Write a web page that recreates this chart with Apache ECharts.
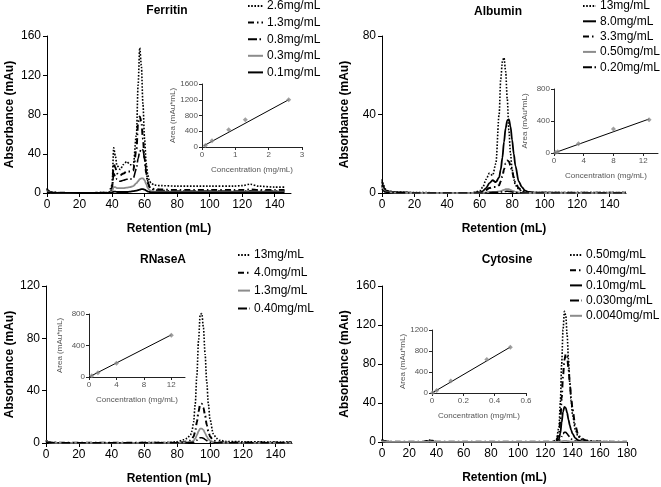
<!DOCTYPE html>
<html><head><meta charset="utf-8">
<script src="https://cdn.jsdelivr.net/npm/echarts@6/dist/echarts.min.js"></script>
<style>html,body{margin:0;padding:0;background:#fff}#c{width:661px;height:487px}</style>
</head><body><div id="c"></div>
<script>
// ---------- Ferritin ----------
var ferX = [0,1,2,4,8,20,38,40,41,42,43,45,47,49,51,53,55,56,57,58,59,60,61,62,63,64,66,70,80,100,115,120,125,130,140,146];
var fer26 = [5,2,1,0.5,0.3,0,0.5,8,46,38,28,24,29,32,29,28,60,110,148,130,90,55,30,18,12,10,8,7.5,7,7,7,7.5,9,7,6,6];
var fer13 = [4,2,1,0.5,0.2,0,0.3,5,30,26,20,18,20,22,22,23,45,72,78,73,55,35,20,10,6,5,4,3.5,3,3,3,3,3.5,3,3,3];
var fer08 = [3,1.5,0.8,0.4,0.2,0,0.2,3,20,17,14,12,13,14,14,15,25,35,42,45,44,35,22,12,6,4,3,2.5,2,2,2,2,2.2,2,2,2];
var fer03 = [2,1,0.5,0.3,0.1,0,0.2,1.5,6,6,5,5,5,5.5,6,7,10,12,14,15,15,13,9,5,3,2,1.5,1.5,1.5,1.5,1.5,1.5,1.5,1.5,1.5,1.5];
var fer01 = [1,0.5,0.3,0.2,0.1,0,0,0.3,1.5,1.5,1,1,1,1,1.5,2,2.5,3,3.5,4,4,3.5,2.5,1.5,1,0.6,0.5,0.5,0.5,0.5,0.5,0.5,0.5,0.5,0.5,0.5];
var ferConc = [0.1,0.3,0.8,1.3,2.6];
var ferArea = [40,160,440,690,1200];
var ferFitX = [0.05,2.6];
var ferFitY = [30,1200];
// ---------- Albumin ----------
var albX = [0,1,2,4,8,20,55,60,62,64,66,68,70,72,73,74,75,76,77,78,79,80,81,82,84,86,88,90,95,110,130,150];
var alb13 = [7,4,2,1,0.5,0.2,0,1,3,7,10,9,15,40,58,67,69,62,48,32,20,12,7,4,2,1,0.5,0.3,0.2,0.2,0.2,0.2];
var alb80 = [6,3,1.5,0.8,0.4,0.1,0,0.3,1,2.5,5,6.5,5.5,8,12,18,26,33,37,37.5,34,27,20,14,6,3,1.2,0.5,0.2,0.1,0,0];
var alb33 = [4,2,1,0.5,0.2,0,0,0.2,0.5,1.5,2.5,3,3,4,6,8.5,12,15,16.5,16,14,11,8,5.5,2.5,1.2,0.5,0.2,0.1,0.1,0.1,0.1];
var alb05 = [3,1.5,0.8,0.4,0.2,0,0,0,0.1,0.3,0.5,0.6,0.6,0.8,1,1.3,1.6,1.9,2,1.9,1.6,1.2,0.9,0.6,0.3,0.1,0,0,0,0,0,0];
var alb02 = [2,1,0.5,0.3,0.1,0,0,0,0,0.1,0.2,0.3,0.3,0.4,0.5,0.6,0.7,0.8,0.9,0.8,0.7,0.5,0.4,0.3,0.1,0,0,0,0,0,0,0];
var albConc = [0.2,0.5,3.3,8.0,12.8];
var albArea = [5,15,115,300,415];
var albFitX = [0,12.8];
var albFitY = [0,425];
// ---------- RNaseA ----------
var rnaX = [0,1,2,4,10,40,75,80,84,86,88,89,90,91,92,93,94,95,96,97,98,99,100,102,104,106,110,120,135,150];
var rna13 = [2,1,0.5,0.3,0.2,0.2,0.3,1,2.5,3.5,6,9,16,30,52,78,98,99,88,68,47,30,18,7,3.5,2,1.2,1,0.8,0.8];
var rna40 = [2,1,0.5,0.3,0.2,0.2,0.2,0.3,0.8,1.2,2,3,5,9,16,24,29.5,30,27,21,14,9,5,2,1,0.6,0.4,0.3,0.3,0.3];
var rna13b = [1.5,0.8,0.4,0.2,0.1,0.1,0.1,0.2,0.4,0.5,0.7,1,1.8,3.3,6,9,11,11,10,7.5,5,3,1.8,0.7,0.3,0.2,0.1,0.1,0.1,0.1];
var rna04 = [1,0.5,0.3,0.2,0.1,0.1,0.1,0.1,0.2,0.2,0.3,0.4,0.6,1.2,2.2,3.3,4,4,3.6,2.7,1.8,1.1,0.6,0.2,0.1,0.1,0.1,0.1,0.1,0.1];
var rnaConc = [0.4,1.3,4.0,12];
var rnaArea = [15,55,175,530];
var rnaFitX = [0,12];
var rnaFitY = [0,535];
// ---------- Cytosine ----------
var cytX = [0,1,2,4,10,30,33,35,37,40,60,100,125,128,130,131,132,133,134,135,136,137,138,139,140,142,144,146,150,155,160,170,180];
var cyt050 = [3,1.5,0.8,0.4,0.2,0.2,1.2,2,1.5,0.3,0.2,0.2,0.3,2,15,40,80,115,134,130,110,85,60,42,28,13,6,3,1.5,0.8,0.5,0.3,0.3];
var cyt040 = [2.5,1.2,0.6,0.3,0.2,0.2,1,1.6,1.2,0.3,0.2,0.2,0.2,1,8,22,45,68,84,90,88,76,60,45,33,17,8,4,1.5,0.7,0.4,0.3,0.3];
var cyt010 = [2,1,0.5,0.3,0.1,0.1,0.5,0.8,0.6,0.2,0.1,0.1,0.1,0.3,3,9,20,31,36,35,30,23,17,12,8.5,4,2,1,0.4,0.2,0.1,0.1,0.1];
var cyt003 = [1.5,0.8,0.4,0.2,0.1,0.1,0.3,0.5,0.4,0.1,0.1,0.1,0.1,0.1,0.8,2.5,5.5,8.5,10,10,8.5,6.5,4.5,3.2,2.2,1,0.5,0.3,0.1,0.1,0.1,0.1,0.1];
var cyt0004 = [1,0.5,0.3,0.1,0.1,0.1,0.2,0.3,0.2,0.1,0.1,0.1,0.1,0.1,0.2,0.4,0.7,1,1.2,1.2,1,0.8,0.6,0.4,0.3,0.2,0.1,0.1,0.1,0.1,0.1,0.1,0.1];
var cytConc = [0.004,0.03,0.12,0.35,0.5];
var cytArea = [5,50,230,640,870];
var cytFitX = [0,0.5];
var cytFitY = [0,875];
// ---------- tick settings ----------
var mainXTicks = {fer:[0,150,20], alb:[0,150,20], rna:[0,150,20], cyt:[0,180,20]};
var mainYTicks = {fer:[0,160,40], alb:[0,80,40], rna:[0,120,40], cyt:[0,160,40]};
var insXTicks = {fer:[0,3,1], alb:[0,14,4], rna:[0,14,4], cyt:[0,0.6,0.2]};
var insYTicks = {fer:[0,1600,400], alb:[0,800,400], rna:[0,800,400], cyt:[0,1200,400]};

function pairs(xs, ys){ return xs.map(function(x,i){return [x, ys[i]];}); }

var FONT = 'Liberation Sans, Arial, sans-serif';
var DOT = {color:'#000', width:1.6, type:[1.6,1.6]};
var DASHDOT = {color:'#000', width:2, type:[6,3,1.5,3]};
var LONGDD = {color:'#000', width:1.6, type:[9,2.5,1.5,2.5]};
var GRAY = {color:'#8c8c8c', width:1.8, type:'solid'};
var SOLID = {color:'#000', width:1.8, type:'solid'};

var panels = [
  {key:'fer', title:'Ferritin', grid:{left:47, top:36, width:244, height:157}, ins:{left:202, top:84, width:100, height:63},
   titleX:167, titleY:5, legend:{left:247, top:0, gap:4.6, w:15},
   xs:ferX, series:[['2.6mg/mL',fer26,DOT],['1.3mg/mL',fer13,DASHDOT],['0.8mg/mL',fer08,LONGDD],['0.3mg/mL',fer03,GRAY],['0.1mg/mL',fer01,SOLID]],
   conc:ferConc, area:ferArea, fx:ferFitX, fy:ferFitY, yGap:31},
  {key:'alb', title:'Albumin', grid:{left:382, top:36, width:244, height:157}, ins:{left:554, top:89, width:104, height:64},
   titleX:498, titleY:6, legend:{left:582, top:0, gap:3.3, w:13},
   xs:albX, series:[['13mg/mL',alb13,DOT],['8.0mg/mL',alb80,SOLID],['3.3mg/mL',alb33,DASHDOT],['0.50mg/mL',alb05,GRAY],['0.20mg/mL',alb02,LONGDD]],
   conc:albConc, area:albArea, fx:albFitX, fy:albFitY, yGap:31},
  {key:'rna', title:'RNaseA', grid:{left:46, top:286, width:246, height:157}, ins:{left:89, top:314, width:96, height:63},
   titleX:163, titleY:254, legend:{left:237, top:249, gap:5.8, w:12},
   xs:rnaX, series:[['13mg/mL',rna13,DOT],['4.0mg/mL',rna40,DASHDOT],['1.3mg/mL',rna13b,GRAY],['0.40mg/mL',rna04,LONGDD]],
   conc:rnaConc, area:rnaArea, fx:rnaFitX, fy:rnaFitY, yGap:30},
  {key:'cyt', title:'Cytosine', grid:{left:382, top:286, width:245, height:156}, ins:{left:432, top:330, width:94, height:63},
   titleX:507, titleY:254, legend:{left:569, top:249, gap:3.2, w:12},
   xs:cytX, series:[['0.50mg/mL',cyt050,DOT],['0.40mg/mL',cyt040,DASHDOT],['0.10mg/mL',cyt010,SOLID],['0.030mg/mL',cyt003,LONGDD],['0.0040mg/mL',cyt0004,GRAY]],
   conc:cytConc, area:cytArea, fx:cytFitX, fy:cytFitY, yGap:31}
];

var option = {animation:false, backgroundColor:'#fff', textStyle:{fontFamily:FONT},
  title:[], grid:[], xAxis:[], yAxis:[], legend:[], series:[]};

function plain(v){ return String(+v.toFixed(4)); }

panels.forEach(function(p, pi){
  var gi = option.grid.length;
  option.grid.push(Object.assign({containLabel:false}, p.grid));
  option.grid.push(Object.assign({containLabel:false}, p.ins));
  option.title.push({text:p.title, left:p.titleX, top:p.titleY, textAlign:'center', padding:0,
    textStyle:{fontSize:12, fontWeight:'bold', color:'#000', fontFamily:FONT}});
  var mx = mainXTicks[p.key], my = mainYTicks[p.key], ix = insXTicks[p.key], iy = insYTicks[p.key];
  var axLine = {show:true, lineStyle:{color:'#000', width:1}};
  option.xAxis.push({type:'value', gridIndex:gi, min:mx[0], max:mx[1], interval:mx[2],
    name:'Retention (mL)', nameLocation:'middle', nameGap:30,
    nameTextStyle:{fontSize:12, fontWeight:'bold', color:'#000', fontFamily:FONT},
    axisLine:axLine, axisTick:{show:true, length:4, lineStyle:{color:'#000'}}, splitLine:{show:false},
    axisLabel:{fontSize:12, color:'#000', margin:6, showMaxLabel: mx[1] % mx[2] === 0, fontFamily:FONT, formatter:plain}});
  option.yAxis.push({type:'value', gridIndex:gi, min:my[0], max:my[1], interval:my[2],
    name:'Absorbance (mAu)', nameLocation:'middle', nameGap:p.yGap,
    nameTextStyle:{fontSize:12, fontWeight:'bold', color:'#000', fontFamily:FONT},
    axisLine:axLine, axisTick:{show:true, length:4, lineStyle:{color:'#000'}}, splitLine:{show:false},
    axisLabel:{fontSize:12, color:'#000', margin:6, fontFamily:FONT, formatter:plain}});
  var insLbl = {fontSize:8, color:'#555', margin:4, fontFamily:FONT, formatter:plain};
  option.xAxis.push({type:'value', gridIndex:gi+1, min:ix[0], max:ix[1], interval:ix[2],
    name:'Concentration (mg/mL)', nameLocation:'middle', nameGap:19,
    nameTextStyle:{fontSize:8, color:'#555', fontFamily:FONT},
    axisLine:{show:true, lineStyle:{color:'#222', width:1}}, axisTick:{show:true, length:3, lineStyle:{color:'#222'}},
    splitLine:{show:false}, axisLabel:Object.assign({showMaxLabel: Math.abs(ix[1]/ix[2] - Math.round(ix[1]/ix[2])) < 1e-9}, insLbl)});
  option.yAxis.push({type:'value', gridIndex:gi+1, min:iy[0], max:iy[1], interval:iy[2],
    name:'Area (mAu*mL)', nameLocation:'middle', nameGap:25,
    nameTextStyle:{fontSize:8, color:'#555', fontFamily:FONT},
    axisLine:{show:true, lineStyle:{color:'#222', width:1}}, axisTick:{show:true, length:3, lineStyle:{color:'#222'}},
    splitLine:{show:false}, axisLabel:insLbl});
  var names = [];
  var prefix = p.key + '|';
  p.series.forEach(function(s){
    names.push(prefix + s[0]);
    option.series.push({type:'line', name:prefix + s[0], xAxisIndex:gi, yAxisIndex:gi,
      data:pairs(p.xs, s[1]), showSymbol:false, symbol:'none', smooth:0.3, smoothMonotone:'x',
      lineStyle:s[2], itemStyle:{color:s[2].color, opacity:0}, z:2});
  });
  option.series.push({type:'line', xAxisIndex:gi+1, yAxisIndex:gi+1, data:pairs(p.fx, p.fy),
    showSymbol:false, symbol:'none', lineStyle:{color:'#000', width:1}, silent:true, z:3});
  option.series.push({type:'scatter', xAxisIndex:gi+1, yAxisIndex:gi+1, data:pairs(p.conc, p.area),
    symbol:'diamond', symbolSize:5, itemStyle:{color:'#888'}, silent:true, z:4});
  option.legend.push({orient:'vertical', left:p.legend.left, top:p.legend.top, padding:0,
    itemGap:p.legend.gap, itemWidth:p.legend.w, itemHeight:12, data:names, selectedMode:false,
    itemStyle:{opacity:0},
    formatter:function(n){return n.split('|')[1];},
    textStyle:{fontSize:12, color:'#000', lineHeight:12, fontFamily:FONT, padding:[0,0,0,-1]}});
});

var chart = echarts.init(document.getElementById('c'), null, {renderer:'canvas'});
chart.setOption(option);
</script></body></html>
